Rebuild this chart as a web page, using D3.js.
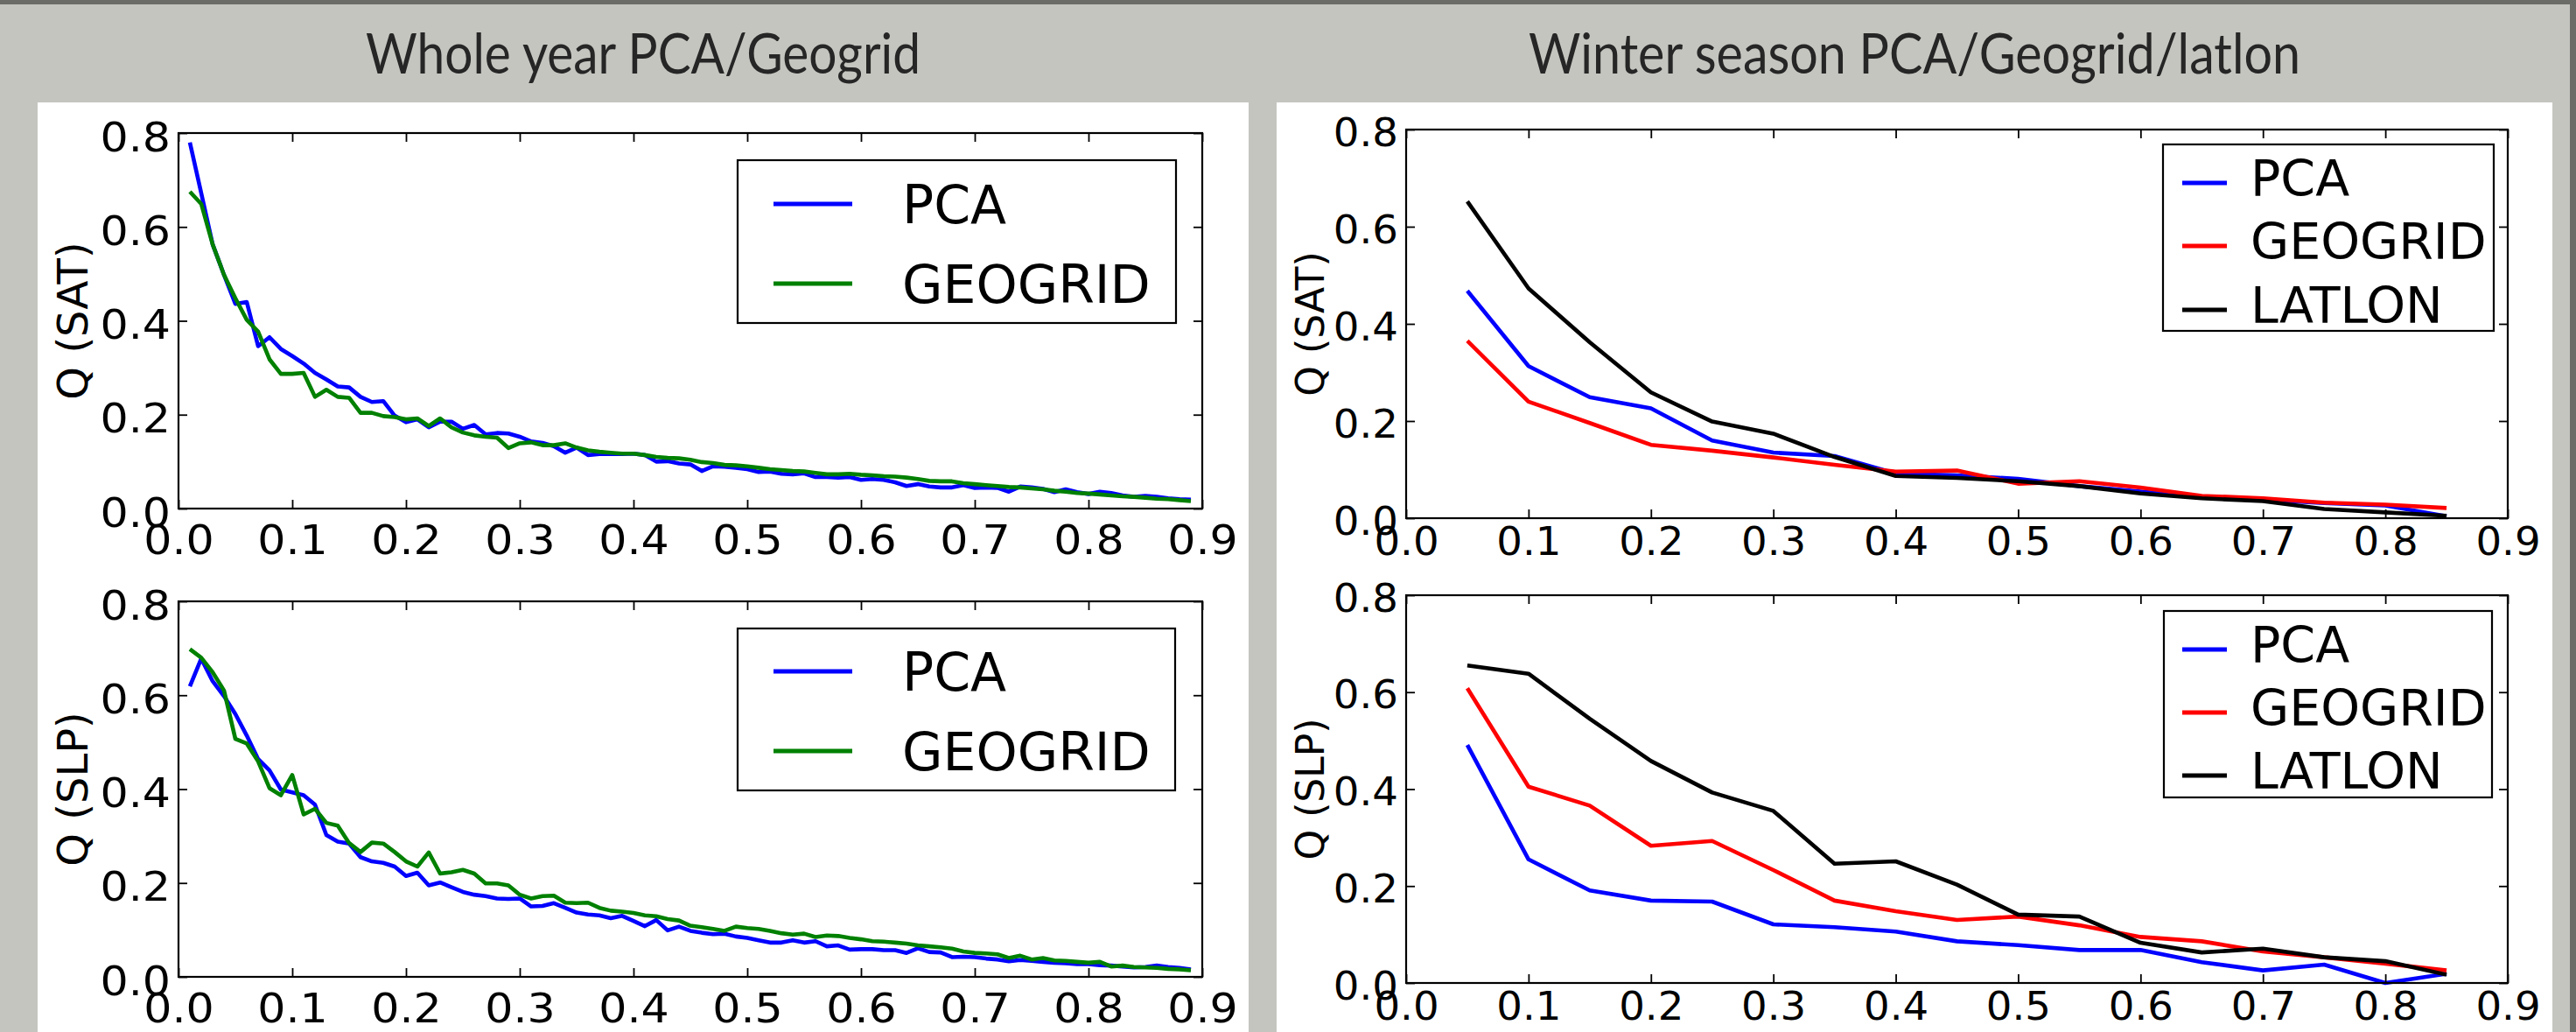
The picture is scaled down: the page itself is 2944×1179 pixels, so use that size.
<!DOCTYPE html>
<html>
<head>
<meta charset="utf-8">
<script src="https://cdn.jsdelivr.net/npm/d3@7"></script>
<style>
  html, body { margin: 0; padding: 0; background: #c5c5c0; }
  svg { display: block; }
</style>
</head>
<body>
<div id="app"></div>
<script>
// x positions of the whole-year curves (fraction of points)
const xWhole = [
  0.01, 0.02, 0.03, 0.04, 0.05, 0.06, 0.07, 0.08, 0.09, 0.10,
  0.11, 0.12, 0.13, 0.14, 0.15, 0.16, 0.17, 0.18, 0.19, 0.20,
  0.21, 0.22, 0.23, 0.24, 0.25, 0.26, 0.27, 0.28, 0.29, 0.30,
  0.31, 0.32, 0.33, 0.34, 0.35, 0.36, 0.37, 0.38, 0.39, 0.40,
  0.41, 0.42, 0.43, 0.44, 0.45, 0.46, 0.47, 0.48, 0.49, 0.50,
  0.51, 0.52, 0.53, 0.54, 0.55, 0.56, 0.57, 0.58, 0.59, 0.60,
  0.61, 0.62, 0.63, 0.64, 0.65, 0.66, 0.67, 0.68, 0.69, 0.70,
  0.71, 0.72, 0.73, 0.74, 0.75, 0.76, 0.77, 0.78, 0.79, 0.80,
  0.81, 0.82, 0.83, 0.84, 0.85, 0.86, 0.87, 0.88, 0.89
]

const satPcaWhole = [
  0.780, 0.672, 0.563, 0.498, 0.436, 0.440, 0.346, 0.365, 0.340, 0.325,
  0.309, 0.289, 0.275, 0.260, 0.258, 0.238, 0.227, 0.229, 0.198, 0.184,
  0.190, 0.173, 0.185, 0.185, 0.170, 0.178, 0.158, 0.161, 0.160, 0.153,
  0.143, 0.140, 0.133, 0.119, 0.130, 0.114, 0.116, 0.116, 0.116, 0.117,
  0.114, 0.100, 0.101, 0.096, 0.094, 0.080, 0.090, 0.089, 0.087, 0.084,
  0.078, 0.079, 0.074, 0.073, 0.075, 0.067, 0.067, 0.066, 0.067, 0.061,
  0.063, 0.061, 0.056, 0.048, 0.052, 0.047, 0.045, 0.045, 0.050, 0.044,
  0.045, 0.044, 0.036, 0.047, 0.045, 0.042, 0.035, 0.041, 0.035, 0.031,
  0.036, 0.033, 0.028, 0.025, 0.027, 0.025, 0.022, 0.020, 0.019
]

const satGeoWhole = [
  0.675, 0.649, 0.563, 0.498, 0.448, 0.402, 0.377, 0.318, 0.287, 0.287,
  0.289, 0.238, 0.253, 0.238, 0.236, 0.204, 0.204, 0.197, 0.195, 0.190,
  0.192, 0.176, 0.192, 0.173, 0.162, 0.156, 0.153, 0.151, 0.129, 0.139,
  0.141, 0.135, 0.135, 0.139, 0.130, 0.124, 0.121, 0.119, 0.117, 0.117,
  0.114, 0.110, 0.108, 0.107, 0.104, 0.099, 0.097, 0.093, 0.092, 0.090,
  0.087, 0.084, 0.082, 0.080, 0.079, 0.076, 0.073, 0.073, 0.074, 0.072,
  0.071, 0.069, 0.068, 0.066, 0.063, 0.059, 0.058, 0.058, 0.054, 0.052,
  0.050, 0.048, 0.046, 0.045, 0.043, 0.041, 0.038, 0.036, 0.033, 0.032,
  0.030, 0.028, 0.026, 0.025, 0.023, 0.021, 0.020, 0.018, 0.016
]

const slpPcaWhole = [
  0.619, 0.678, 0.630, 0.598, 0.560, 0.514, 0.464, 0.440, 0.399, 0.393,
  0.387, 0.367, 0.302, 0.288, 0.284, 0.255, 0.246, 0.243, 0.235, 0.215,
  0.222, 0.195, 0.201, 0.191, 0.181, 0.175, 0.172, 0.167, 0.166, 0.167,
  0.150, 0.151, 0.157, 0.147, 0.137, 0.133, 0.131, 0.125, 0.130, 0.119,
  0.108, 0.121, 0.099, 0.107, 0.098, 0.094, 0.091, 0.092, 0.086, 0.083,
  0.078, 0.073, 0.073, 0.078, 0.073, 0.076, 0.065, 0.067, 0.058, 0.059,
  0.059, 0.057, 0.057, 0.051, 0.061, 0.053, 0.052, 0.042, 0.043, 0.042,
  0.039, 0.037, 0.033, 0.036, 0.034, 0.032, 0.030, 0.029, 0.027, 0.027,
  0.025, 0.024, 0.022, 0.020, 0.021, 0.024, 0.021, 0.019, 0.016
]

const slpGeoWhole = [
  0.698, 0.680, 0.649, 0.610, 0.507, 0.497, 0.459, 0.402, 0.387, 0.430,
  0.346, 0.358, 0.328, 0.322, 0.285, 0.266, 0.286, 0.284, 0.266, 0.246,
  0.235, 0.265, 0.220, 0.223, 0.228, 0.220, 0.199, 0.199, 0.195, 0.175,
  0.167, 0.172, 0.173, 0.158, 0.157, 0.158, 0.147, 0.141, 0.139, 0.136,
  0.131, 0.129, 0.123, 0.120, 0.109, 0.106, 0.102, 0.098, 0.107, 0.104,
  0.102, 0.098, 0.093, 0.090, 0.092, 0.085, 0.088, 0.087, 0.083, 0.080,
  0.076, 0.075, 0.073, 0.071, 0.067, 0.065, 0.063, 0.060, 0.054, 0.051,
  0.050, 0.048, 0.040, 0.045, 0.037, 0.040, 0.035, 0.034, 0.032, 0.030,
  0.032, 0.022, 0.024, 0.021, 0.020, 0.019, 0.017, 0.016, 0.014
]

// winter season curves
const xWinter = [0.05, 0.10, 0.15, 0.20, 0.25, 0.30, 0.35, 0.40, 0.45, 0.50, 0.55, 0.60, 0.65, 0.70, 0.75, 0.80, 0.85]

const satPcaWinter = [0.468, 0.313, 0.249, 0.226, 0.160, 0.135, 0.128, 0.092, 0.088, 0.081, 0.066, 0.055, 0.043, 0.038, 0.031, 0.026, 0.004]
const satGeoWinter = [0.365, 0.240, 0.196, 0.151, 0.139, 0.125, 0.110, 0.096, 0.098, 0.071, 0.076, 0.063, 0.046, 0.041, 0.032, 0.028, 0.021]
const satLatWinter = [0.652, 0.473, 0.362, 0.259, 0.199, 0.174, 0.126, 0.087, 0.083, 0.076, 0.066, 0.051, 0.041, 0.035, 0.019, 0.012, 0.005]

const slpPcaWinter = [0.491, 0.255, 0.191, 0.170, 0.168, 0.121, 0.115, 0.106, 0.086, 0.078, 0.068, 0.068, 0.043, 0.026, 0.038, 0.000, 0.019]
const slpGeoWinter = [0.608, 0.405, 0.366, 0.283, 0.293, 0.233, 0.170, 0.148, 0.130, 0.137, 0.119, 0.095, 0.086, 0.065, 0.053, 0.040, 0.026]
const slpLatWinter = [0.655, 0.638, 0.545, 0.458, 0.393, 0.355, 0.246, 0.251, 0.203, 0.141, 0.137, 0.083, 0.063, 0.071, 0.053, 0.045, 0.017]

const xTicks = [0.0, 0.1, 0.2, 0.3, 0.4, 0.5, 0.6, 0.7, 0.8, 0.9]
const yTicks = [0.0, 0.2, 0.4, 0.6, 0.8]

const titles = ['Whole year PCA/Geogrid', 'Winter season PCA/Geogrid/latlon']

const W = 2944, H = 1179
const fmt = d3.format('.1f')

const svg = d3.create('svg')
    .attr('width', W)
    .attr('height', H)
    .attr('viewBox', [0, 0, W, H])

svg.append('rect').attr('width', W).attr('height', H).attr('fill', '#c5c5c0')
svg.append('rect').attr('width', W).attr('height', 5).attr('fill', '#6b6b67')
svg.append('rect').attr('x', W - 7).attr('width', 7).attr('height', H).attr('fill', '#6b6b67')

// white slide panels
svg.append('rect').attr('x', 43).attr('y', 117).attr('width', 1384).attr('height', H - 117).attr('fill', '#fff')
svg.append('rect').attr('x', 1459).attr('y', 117).attr('width', 1458).attr('height', H - 117).attr('fill', '#fff')

// beamer frame titles, squeezed to the width of the condensed slide font
const titlePos = [[735, 634], [2188, 882]]
svg.selectAll('text.title')
    .data(titles)
    .join('text')
    .attr('class', 'title')
    .attr('x', (d, i) => titlePos[i][0] - titlePos[i][1] / 2)
    .attr('y', 84)
    .attr('textLength', (d, i) => titlePos[i][1])
    .attr('lengthAdjust', 'spacingAndGlyphs')
    .attr('font-family', 'Lato, "Open Sans", sans-serif')
    .attr('font-weight', 400)
    .attr('font-size', 63)
    .attr('fill', '#262626')
    .text(d => d)

const panels = [
    {
        box: [204, 1374, 152, 581], xs: xWhole, ylabel: 'Q (SAT)', labelX: 100,
        tickFont: 46, xPad: 19, yDy: 20, stretch: 1.1,
        series: [
            { label: 'PCA', color: '#0000ff', values: satPcaWhole },
            { label: 'GEOGRID', color: '#008000', values: satGeoWhole }
        ],
        legend: { x: 843, y: 183, w: 501, h: 186, l0: 884, l1: 974, rows: [233, 324], tx: 1031, tdy: 22, font: 60 },
        labelFont: 48
    },
    {
        box: [204, 1374, 687, 1116], xs: xWhole, ylabel: 'Q (SLP)', labelX: 100,
        tickFont: 46, xPad: 19, yDy: 20, stretch: 1.1,
        series: [
            { label: 'PCA', color: '#0000ff', values: slpPcaWhole },
            { label: 'GEOGRID', color: '#008000', values: slpGeoWhole }
        ],
        legend: { x: 843, y: 718, w: 500, h: 185, l0: 884, l1: 974, rows: [767, 858], tx: 1031, tdy: 22, font: 60 },
        labelFont: 48
    },
    {
        box: [1607, 2866, 148, 592], xs: xWinter, ylabel: 'Q (SAT)', labelX: 1513,
        tickFont: 44, xPad: 11, yDy: 18, stretch: 1.06,
        series: [
            { label: 'PCA', color: '#0000ff', values: satPcaWinter },
            { label: 'GEOGRID', color: '#ff0000', values: satGeoWinter },
            { label: 'LATLON', color: '#000000', values: satLatWinter }
        ],
        legend: { x: 2472, y: 165, w: 378, h: 213, l0: 2494, l1: 2545, rows: [209, 281, 354], tx: 2572, tdy: 15, font: 57 },
        labelFont: 44
    },
    {
        box: [1607, 2866, 680, 1123], xs: xWinter, ylabel: 'Q (SLP)', labelX: 1513,
        tickFont: 44, xPad: 11, yDy: 18, stretch: 1.06,
        series: [
            { label: 'PCA', color: '#0000ff', values: slpPcaWinter },
            { label: 'GEOGRID', color: '#ff0000', values: slpGeoWinter },
            { label: 'LATLON', color: '#000000', values: slpLatWinter }
        ],
        legend: { x: 2473, y: 698, w: 375, h: 213, l0: 2494, l1: 2545, rows: [742, 814, 886], tx: 2572, tdy: 15, font: 57 },
        labelFont: 44
    }
]

const tickFamily = '"DejaVu Sans", Verdana, sans-serif'

panels.forEach(p => {
    const [left, right, top, bottom] = p.box
    const x = d3.scaleLinear().domain([0, 0.9]).range([left, right])
    const y = d3.scaleLinear().domain([0, 0.8]).range([bottom, top])

    const g = svg.append('g')

    const line = d3.line()
        .x((d, i) => x(p.xs[i]))
        .y(d => y(d))

    g.selectAll('path.series')
        .data(p.series)
        .join('path')
        .attr('class', 'series')
        .attr('d', d => line(d.values))
        .attr('fill', 'none')
        .attr('stroke', d => d.color)
        .attr('stroke-width', 4.6)
        .attr('stroke-linejoin', 'round')

    const styleAxis = sel => {
        sel.select('.domain').remove()
        sel.selectAll('.tick line').attr('stroke', '#000').attr('stroke-width', 1.8)
        sel.selectAll('.tick text')
            .attr('font-family', tickFamily)
            .attr('font-size', p.tickFont)
            .attr('fill', '#000')
    }

    g.append('g')
        .attr('transform', `translate(0,${bottom})`)
        .call(d3.axisBottom(x).tickValues(xTicks).tickFormat(fmt).tickSize(-10).tickPadding(p.xPad))
        .call(styleAxis)
        .call(sel => sel.selectAll('.tick text').attr('transform', `scale(${p.stretch},1)`))

    g.append('g')
        .attr('transform', `translate(0,${top})`)
        .call(d3.axisTop(x).tickValues(xTicks).tickFormat('').tickSize(-10))
        .call(styleAxis)

    g.append('g')
        .attr('transform', `translate(${left},0)`)
        .call(d3.axisLeft(y).tickValues(yTicks).tickFormat(fmt).tickSize(-10).tickPadding(9))
        .call(styleAxis)
        .call(sel => sel.selectAll('.tick text')
            .attr('dy', null)
            .attr('y', p.yDy)
            .attr('x', -9 / p.stretch)
            .attr('transform', `scale(${p.stretch},1)`))

    g.append('g')
        .attr('transform', `translate(${right},0)`)
        .call(d3.axisRight(y).tickValues(yTicks).tickFormat('').tickSize(-10))
        .call(styleAxis)

    g.append('rect')
        .attr('x', left).attr('y', top)
        .attr('width', right - left).attr('height', bottom - top)
        .attr('fill', 'none')
        .attr('stroke', '#000')
        .attr('stroke-width', 2.2)

    g.append('text')
        .attr('transform', `translate(${p.labelX},${(top + bottom) / 2}) rotate(-90)`)
        .attr('text-anchor', 'middle')
        .attr('font-family', tickFamily)
        .attr('font-size', p.labelFont)
        .attr('fill', '#000')
        .text(p.ylabel)

    // legend
    const lg = p.legend
    g.append('rect')
        .attr('x', lg.x).attr('y', lg.y)
        .attr('width', lg.w).attr('height', lg.h)
        .attr('fill', '#fff')
        .attr('stroke', '#000')
        .attr('stroke-width', 2.2)

    const rows = g.selectAll('g.leg')
        .data(p.series)
        .join('g')
        .attr('class', 'leg')
        .attr('transform', (d, i) => `translate(0,${lg.rows[i]})`)

    rows.append('line')
        .attr('x1', lg.l0).attr('x2', lg.l1)
        .attr('stroke', d => d.color)
        .attr('stroke-width', 4.8)

    rows.append('text')
        .attr('x', lg.tx)
        .attr('y', lg.tdy)
        .attr('font-family', tickFamily)
        .attr('font-size', lg.font)
        .attr('fill', '#000')
        .text(d => d.label)
})

d3.select('#app').append(() => svg.node())
</script>
</body>
</html>
